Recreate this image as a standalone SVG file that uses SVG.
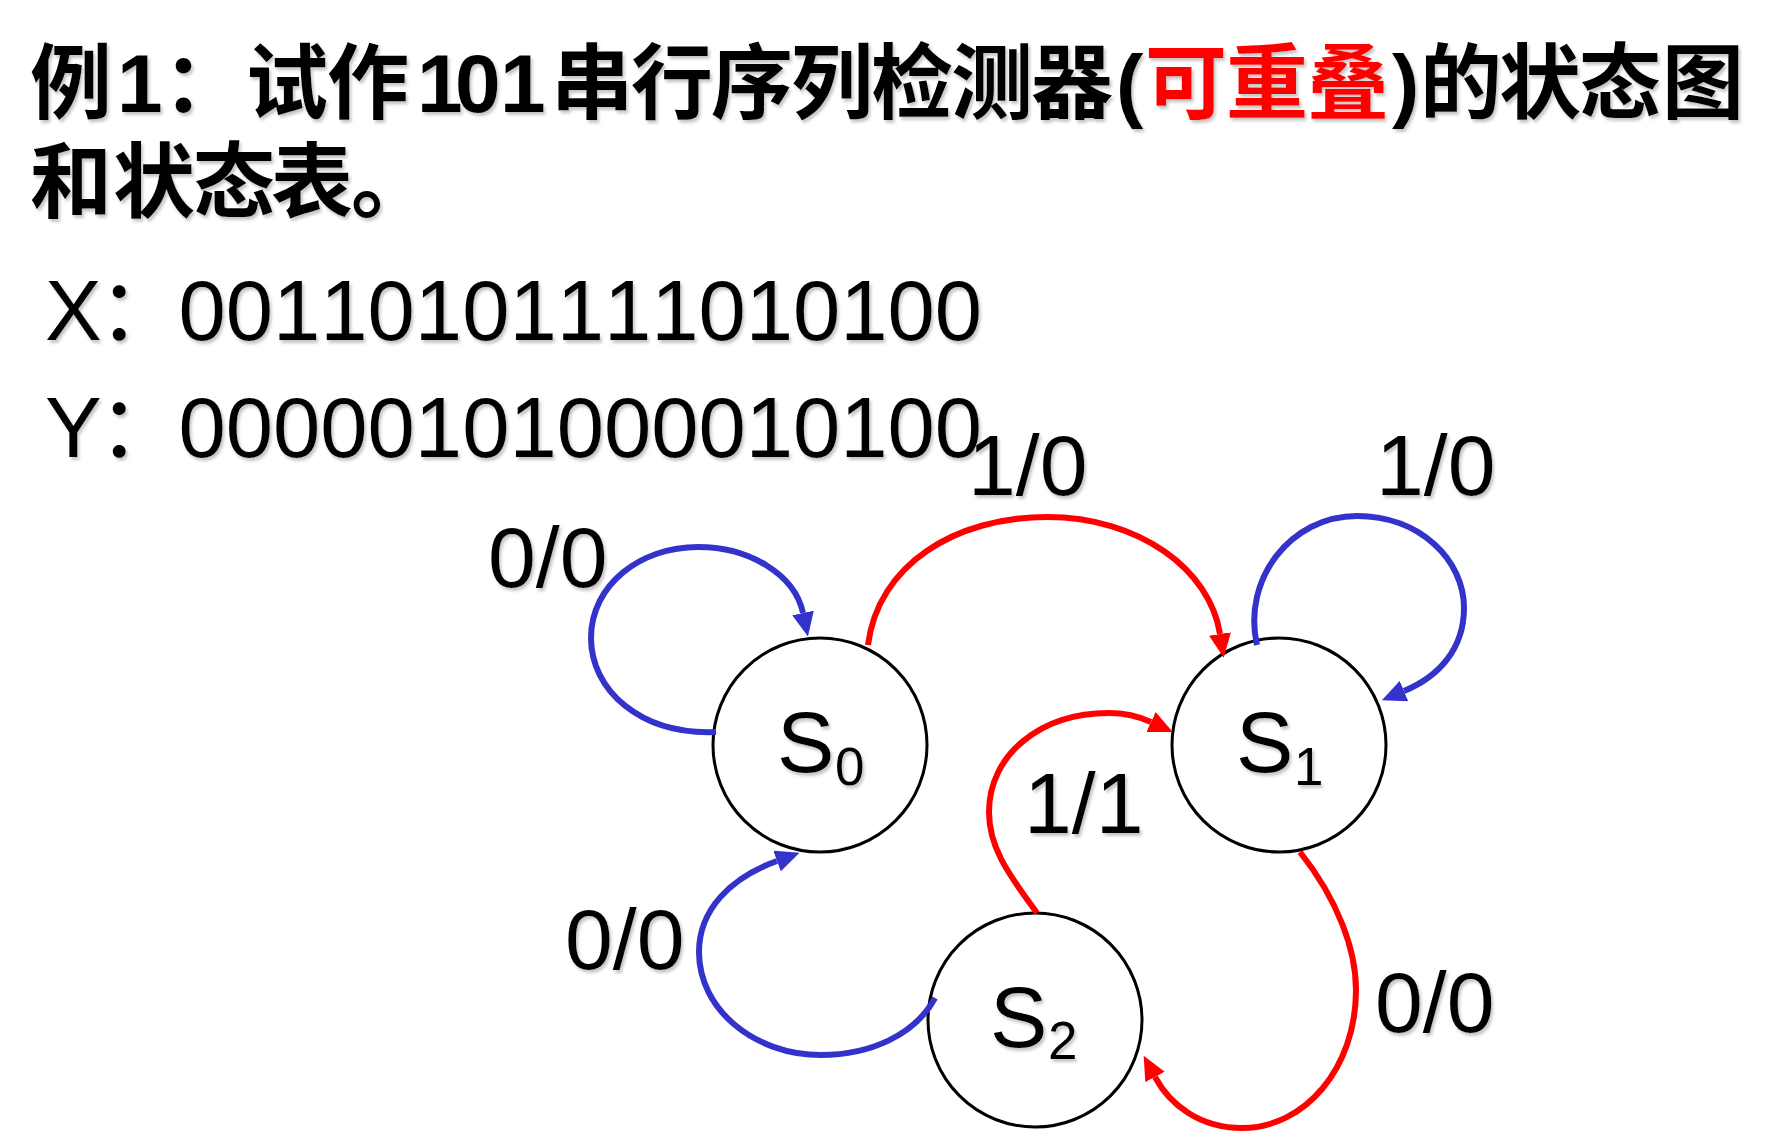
<svg xmlns="http://www.w3.org/2000/svg" width="1784" height="1148" viewBox="0 0 1784 1148">
<defs>
  <filter id="sh" x="-10%" y="-10%" width="120%" height="130%">
    <feDropShadow dx="2" dy="3" stdDeviation="1.5" flood-color="#808080" flood-opacity="0.45"/>
  </filter>
  <marker id="ah-blue" viewBox="0 0 24 22" refX="0" refY="11" markerWidth="24" markerHeight="22" markerUnits="userSpaceOnUse" orient="auto">
    <path d="M0,0 L24,11 L0,22 z" fill="#3333CC"/>
  </marker>
  <marker id="ah-red" viewBox="0 0 24 22" refX="0" refY="11" markerWidth="24" markerHeight="22" markerUnits="userSpaceOnUse" orient="auto">
    <path d="M0,0 L24,11 L0,22 z" fill="#FF0000"/>
  </marker>
</defs>
<style>
  text { font-kerning: none; font-feature-settings: "kern" 0; }
  .title { font-family: "Noto Sans CJK SC", "Liberation Sans", sans-serif; font-size: 82px; font-weight: bold; fill: #000; }
  .lat { font-family: "Liberation Sans", sans-serif; }
  .red { fill: #FF0000; }
  .seq { font-family: "Liberation Sans", "Noto Sans CJK SC", sans-serif; font-size: 85px; fill: #000; }
  .cjk { font-family: "Noto Sans CJK SC", sans-serif; }
  .lbl { font-family: "Liberation Sans", sans-serif; font-size: 86px; fill: #000; }
  .st { font-family: "Liberation Sans", sans-serif; font-size: 86px; fill: #000; }
  .sub { font-size: 53px; }
  .node { fill: #fff; stroke: #000; stroke-width: 3; }
  .blue { fill: none; stroke: #3333CC; stroke-width: 6; marker-end: url(#ah-blue); }
  .redl { fill: none; stroke: #FF0000; stroke-width: 6; marker-end: url(#ah-red); }
  .txt { filter: url(#sh); }
</style>
<rect width="1784" height="1148" fill="#fff"/>

<g id="title" class="txt">
  <text class="title" y="112"><tspan x="30">例</tspan><tspan class="lat" x="117">1</tspan><tspan x="163">：</tspan><tspan x="246 327">试作</tspan><tspan class="lat" x="417 455 500">101</tspan><tspan x="551 631 711 791 871 951 1031">串行序列检测器</tspan><tspan class="lat" x="1116">(</tspan><tspan class="red" x="1145 1226 1307">可重叠</tspan><tspan class="lat" x="1392">)</tspan><tspan x="1420 1499 1579 1662">的状态图</tspan></text>
  <text class="title" y="211" x="30 113 193 271 351">和状态表。</text>
</g>

<g id="sequences" class="txt">
  <text class="seq" y="340"><tspan x="45">X</tspan><tspan class="cjk" x="98">：</tspan><tspan x="178.5">00110101111010100</tspan></text>
  <text class="seq" y="457"><tspan x="45">Y</tspan><tspan class="cjk" x="98">：</tspan><tspan x="178.5">00000101000010100</tspan></text>
</g>

<g id="node-S0">
  <circle class="node" cx="820" cy="745" r="107"/>
  <text class="st txt" y="772"><tspan x="777">S</tspan><tspan class="sub" x="835" y="785">0</tspan></text>
</g>
<g id="node-S1">
  <circle class="node" cx="1279" cy="745" r="107"/>
  <text class="st txt" y="772"><tspan x="1236">S</tspan><tspan class="sub" x="1294" y="785">1</tspan></text>
</g>
<g id="node-S2">
  <circle class="node" cx="1035" cy="1020" r="107"/>
  <text class="st txt" y="1047"><tspan x="990">S</tspan><tspan class="sub" x="1048" y="1059">2</tspan></text>
</g>

<g id="connectors">
  <path id="e-s0-s0" class="blue" d="M716,732 C640,735 591,690 591,638 C591,585 640,547 698,547 C750,547 795,575 803,613"/>
  <path id="e-s0-s1" class="redl" d="M868,645 C878,565 955,517 1047,517 C1140,517 1210,570 1220,634"/>
  <path id="e-s1-s1" class="blue" d="M1257,645 C1242,580 1290,516 1357,516 C1420,516 1464,560 1464,608 C1464,648 1440,676 1404,691"/>
  <path id="e-s2-s1" class="redl" d="M1037,913 C1005,870 989,845 989,812 C989,755 1040,713 1109,713 C1125,713 1138,716 1151,722"/>
  <path id="e-s1-s2" class="redl" d="M1300,852 C1338,900 1356,950 1356,990 C1356,1068 1305,1128 1242,1128 C1200,1128 1170,1105 1155,1077"/>
  <path id="e-s2-s0" class="blue" d="M935,998 C915,1035 870,1055 821,1055 C755,1055 699,1010 699,952 C699,910 730,878 777,861"/>
</g>

<g id="edge-labels" class="txt">
  <text class="lbl" x="488" y="587">0/0</text>
  <text class="lbl" x="968" y="495">1/0</text>
  <text class="lbl" x="1376" y="495">1/0</text>
  <text class="lbl" x="1024" y="833">1/1</text>
  <text class="lbl" x="565" y="969">0/0</text>
  <text class="lbl" x="1375" y="1032">0/0</text>
</g>
</svg>
